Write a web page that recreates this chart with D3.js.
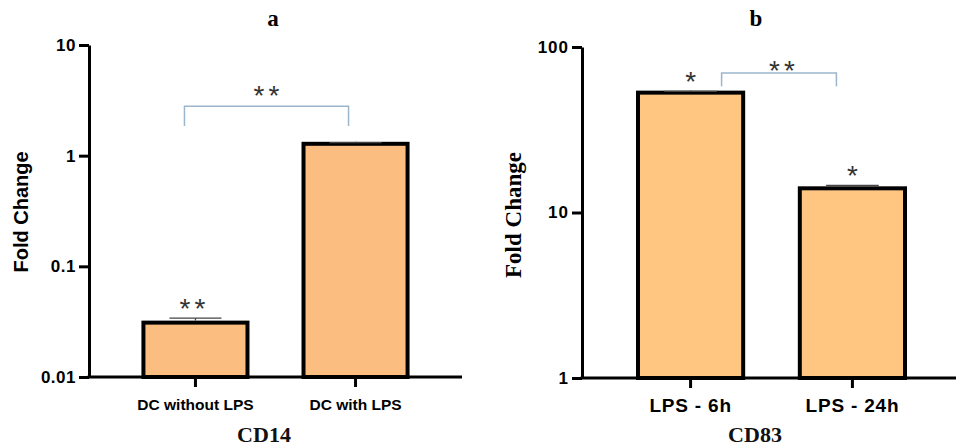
<!DOCTYPE html>
<html>
<head>
<meta charset="utf-8">
<script src="https://cdn.jsdelivr.net/npm/d3@7"></script>
<style>
  html, body { margin: 0; padding: 0; background: #fff; }
  svg { display: block; }
</style>
</head>
<body>
<svg id="chart" width="956" height="447"></svg>
<script>
// ---- Data ----
const cd14Categories = ["DC without LPS", "DC with LPS"];
const cd14Values = [0.031, 1.28];
const cd14ErrorTops = [0.034, 1.31];
const cd14Ticks = [0.01, 0.1, 1, 10];
const cd14TickLabels = ["0.01", "0.1", "1", "10"];
const cd14BarStars = ["**", ""];
const cd14Bracket = { from: "DC without LPS", to: "DC with LPS", top: 2.8, bottom: 1.85, label: "**" };

const cd83Categories = ["LPS - 6h", "LPS - 24h"];
const cd83Values = [53, 14.0];
const cd83ErrorTops = [54, 14.6];
const cd83Ticks = [1, 10, 100];
const cd83TickLabels = ["1", "10", "100"];
const cd83BarStars = ["*", "*"];
const cd83Bracket = { from: "LPS - 6h", to: "LPS - 24h", top: 69.6, bottom: 58, label: "**" };

const svg = d3.select("#chart");
const SANS = "'Liberation Sans', Arial, sans-serif";
const SERIF = "'Liberation Serif', 'Times New Roman', serif";

function starText(g, label, x, y) {
  const multi = label.length > 1;
  g.append("text").attr("x", x + (multi ? 2 : 0)).attr("y", y)
    .attr("text-anchor", "middle")
    .attr("font-family", SANS).attr("font-size", 28)
    .attr("letter-spacing", multi ? 4 : 0)
    .attr("fill", "#333")
    .text(label);
}

function panel(cfg) {
  const g = svg.append("g");
  const x = d3.scaleBand().domain(cfg.categories).range(cfg.xRange)
    .paddingInner(0.35).paddingOuter(cfg.padOuter);
  const y = d3.scaleLog().domain(cfg.yDomain).range(cfg.yRange);
  const y0 = cfg.yRange[0];

  // bars
  g.selectAll("rect.bar").data(cfg.categories).join("rect")
    .attr("class", "bar")
    .attr("x", d => x(d))
    .attr("y", (d, i) => y(cfg.values[i]))
    .attr("width", x.bandwidth())
    .attr("height", (d, i) => y0 - y(cfg.values[i]))
    .attr("fill", cfg.fill)
    .attr("stroke", "#000")
    .attr("stroke-width", 4);

  // error bars
  const capW = x.bandwidth() * 0.5;
  cfg.categories.forEach((c, i) => {
    const cx = x(c) + x.bandwidth() / 2;
    g.append("line").attr("x1", cx).attr("x2", cx)
      .attr("y1", y(cfg.values[i]) - 2).attr("y2", y(cfg.errTops[i]))
      .attr("stroke", "#444").attr("stroke-width", 1.3);
    g.append("line").attr("x1", cx - capW / 2).attr("x2", cx + capW / 2)
      .attr("y1", y(cfg.errTops[i])).attr("y2", y(cfg.errTops[i]))
      .attr("stroke", "#444").attr("stroke-width", 1.3);
    if (cfg.stars[i]) starText(g, cfg.stars[i], cx - (cfg.stars[i].length > 1 ? 3 : 0), y(cfg.errTops[i]) + cfg.starDy);
  });

  // bracket
  const b = cfg.bracket;
  const bx1 = x(b.from) + x.bandwidth() / 2 + cfg.bracketOff[0];
  const bx2 = x(b.to) + x.bandwidth() / 2 + cfg.bracketOff[1];
  g.append("path")
    .attr("d", `M${bx1},${y(b.bottom)}V${y(b.top)}H${bx2}V${y(b.bottom)}`)
    .attr("fill", "none").attr("stroke", "#9bb6cc").attr("stroke-width", 1.5);
  starText(g, b.label, (bx1 + bx2) / 2 + cfg.bracketLabelDx, y(b.top) + cfg.bracketLabelDy);

  // y axis
  const yAxis = d3.axisLeft(y).tickValues(cfg.ticks)
    .tickFormat(d => cfg.tickLabels[cfg.ticks.indexOf(d)])
    .tickSize(10).tickSizeOuter(0).tickPadding(3);
  const ya = g.append("g").attr("transform", `translate(${cfg.xRange[0]},0)`).call(yAxis);
  ya.select(".domain").attr("stroke", "#000").attr("stroke-width", 3);
  ya.selectAll(".tick line").attr("stroke", "#000").attr("stroke-width", 3);
  ya.selectAll(".tick text").attr("font-family", SANS).attr("font-weight", "bold")
    .attr("font-size", cfg.tickFont).attr("letter-spacing", cfg.tickSpacing).attr("fill", "#000");

  // x axis
  const xAxis = d3.axisBottom(x).tickSize(10).tickSizeOuter(0).tickPadding(8);
  const xa = g.append("g").attr("transform", `translate(0,${y0})`).call(xAxis);
  xa.select(".domain").attr("d", `M${cfg.xRange[0] - 1.5},0H${cfg.xAxisEnd}`)
    .attr("stroke", "#000").attr("stroke-width", 3);
  xa.selectAll(".tick line").attr("stroke", "#000").attr("stroke-width", 3);
  xa.selectAll(".tick text").attr("font-family", SANS).attr("font-weight", "bold")
    .attr("font-size", cfg.catFont).attr("letter-spacing", cfg.catSpacing).attr("fill", "#000")
    .attr("dy", cfg.catDy);

  // y label
  g.append("text")
    .attr("transform", `translate(${cfg.yLabelX},${cfg.yLabelY}) rotate(-90)`)
    .attr("text-anchor", "middle")
    .attr("font-family", cfg.yLabelFont).attr("font-weight", "bold")
    .attr("font-size", cfg.yLabelSize).text("Fold Change");

  // title & x label
  g.append("text").attr("x", cfg.titleX).attr("y", 26).attr("text-anchor", "middle")
    .attr("font-family", SERIF).attr("font-weight", "bold").attr("font-size", 23)
    .text(cfg.title);
  g.append("text").attr("x", cfg.xLabelX).attr("y", 442).attr("text-anchor", "middle")
    .attr("font-family", SERIF).attr("font-weight", "bold").attr("font-size", 22)
    .attr("fill", "#111")
    .text(cfg.xLabel);
}

panel({
  categories: cd14Categories, values: cd14Values, errTops: cd14ErrorTops,
  stars: cd14BarStars, bracket: cd14Bracket, bracketOff: [-11, -7],
  bracketLabelDx: 0, bracketLabelDy: -1,
  ticks: cd14Ticks, tickLabels: cd14TickLabels,
  xRange: [89, 462], padOuter: 0.34, xAxisEnd: 462,
  yDomain: [0.01, 10], yRange: [377, 45],
  fill: "#fcbd81", starDy: 0,
  tickFont: 17, tickSpacing: 0.5, catFont: 15.5, catSpacing: 0, catDy: "0.95em",
  yLabelX: 28, yLabelY: 212, yLabelFont: SANS, yLabelSize: 20,
  title: "a", titleX: 273, xLabel: "CD14", xLabelX: 264
});

panel({
  categories: cd83Categories, values: cd83Values, errTops: cd83ErrorTops,
  stars: cd83BarStars, bracket: cd83Bracket, bracketOff: [31, -16],
  bracketLabelDx: 3, bracketLabelDy: 7,
  ticks: cd83Ticks, tickLabels: cd83TickLabels,
  xRange: [582, 961], padOuter: 0.346, xAxisEnd: 956,
  yDomain: [1, 100], yRange: [378, 47],
  fill: "#ffc682", starDy: 0,
  tickFont: 17, tickSpacing: 1, catFont: 19, catSpacing: 0.8, catDy: "0.85em",
  yLabelX: 521, yLabelY: 215, yLabelFont: SERIF, yLabelSize: 23,
  title: "b", titleX: 756, xLabel: "CD83", xLabelX: 755
});
</script>
</body>
</html>
